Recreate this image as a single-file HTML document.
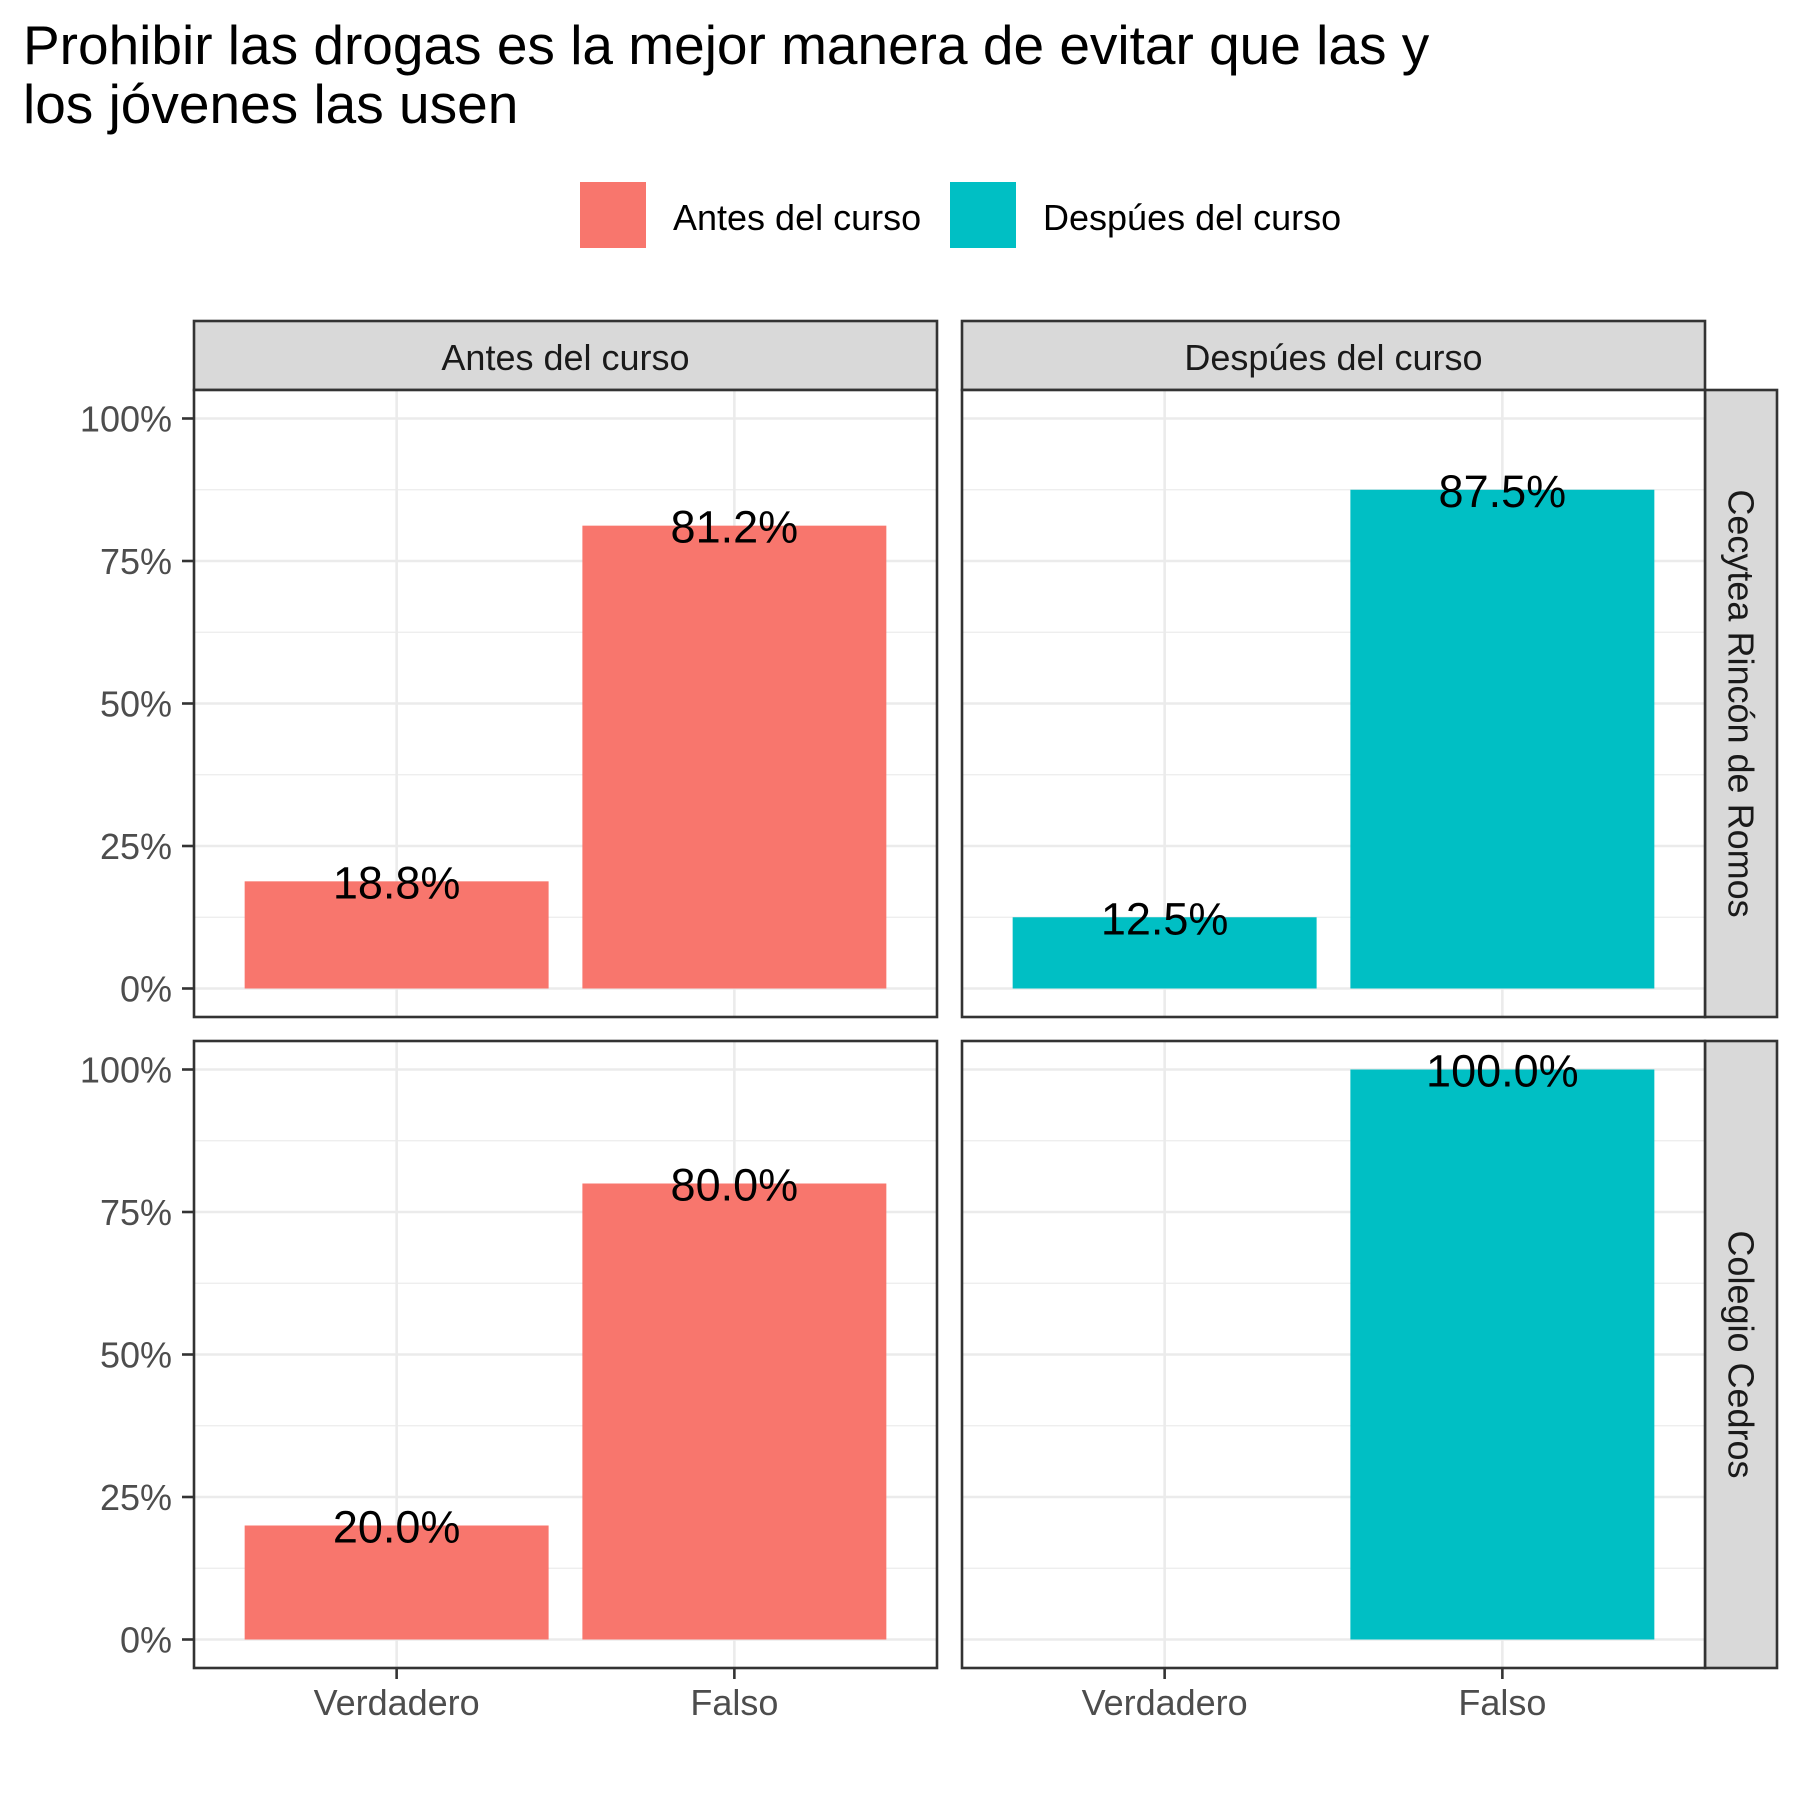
<!DOCTYPE html>
<html><head><meta charset="utf-8"><style>
html,body{margin:0;padding:0;background:#fff}
svg{display:block;font-family:"Liberation Sans",Arial,sans-serif}
</style></head><body>
<svg id="chart" width="1800" height="1800" viewBox="0 0 1800 1800" xmlns="http://www.w3.org/2000/svg">
<rect width="1800" height="1800" fill="#fff"/>
<text font-size="55" fill="#000"><tspan x="23" y="64">Prohibir las drogas es la mejor manera de evitar que las y</tspan><tspan x="23" y="123">los jóvenes las usen</tspan></text>
<g>
<rect x="580" y="182" width="66" height="66" fill="#F8766D"/>
<text x="673" y="230" font-size="36">Antes del curso</text>
<rect x="950" y="182" width="66" height="66" fill="#00BFC4"/>
<text x="1043" y="230" font-size="36">Despúes del curso</text>
</g>
<g id="panels"></g>
</svg>
<script>
const categories = ["Verdadero", "Falso"];
const colFacets = ["Antes del curso", "Despúes del curso"];
const rowFacets = ["Cecytea Rincón de Romos", "Colegio Cedros"];
const antesCecytea = [0.188, 0.812];
const despuesCecytea = [0.125, 0.875];
const antesCedros = [0.200, 0.800];
const despuesCedros = [0.0, 1.0];
const yTicks = [0, 0.25, 0.5, 0.75, 1];
const yTickLabels = ["0%", "25%", "50%", "75%", "100%"];
const barLabelsCecytea = [["18.8%", "81.2%"], ["12.5%", "87.5%"]];
const barLabelsCedros = [["20.0%", "80.0%"], ["", "100.0%"]];

const panelData = [[antesCecytea, despuesCecytea], [antesCedros, despuesCedros]];
const panelLabels = [barLabelsCecytea, barLabelsCedros];
const colors = ["#F8766D", "#00BFC4"];
const colX = [194, 962], panelW = 743;
const rowY = [390, 1041], panelH = 627;
const NS = "http://www.w3.org/2000/svg";
const root = document.getElementById("panels");
function mk(tag, attrs, parent) {
  const e = document.createElementNS(NS, tag);
  for (const k in attrs) e.setAttribute(k, attrs[k]);
  (parent || root).appendChild(e);
  return e;
}
function yScale(v, r) { return rowY[r] + panelH - panelH * (v + 0.05) / 1.1; }
function xScale(i, c) { return colX[c] + panelW * (i + 1 - 0.4) / 2.2; }
const bw = panelW * 0.9 / 2.2;

for (let c = 0; c < 2; c++) {
  const s = mk("rect", {x: colX[c], y: 321, width: panelW, height: 69, fill: "#D9D9D9", stroke: "#333", "stroke-width": 2.6});
  
  
  const t = mk("text", {x: colX[c] + panelW / 2, y: 370, "font-size": 36, "text-anchor": "middle", fill: "#1A1A1A"});
  
  
  t.textContent = colFacets[c];
}
for (let r = 0; r < 2; r++) {
  const s = mk("rect", {x: 1705, y: rowY[r], width: 72, height: panelH, fill: "#D9D9D9", stroke: "#333", "stroke-width": 2.6});
  
  
  const cy = rowY[r] + panelH / 2;
  const t = mk("text", {x: 1741, y: cy, "font-size": 36, "text-anchor": "middle", "dominant-baseline": "central", fill: "#1A1A1A", transform: `rotate(90 1741 ${cy})`});
  
  
  t.textContent = rowFacets[r];
}

for (let r = 0; r < 2; r++) {
  for (let c = 0; c < 2; c++) {
    const g = mk("g", {});
    
    
    mk("rect", {x: colX[c], y: rowY[r], width: panelW, height: panelH, fill: "#fff"}, g);
    for (let i = 0; i < yTicks.length - 1; i++) {
      const y = yScale((yTicks[i] + yTicks[i + 1]) / 2, r);
      const l = mk("line", {x1: colX[c], x2: colX[c] + panelW, y1: y, y2: y, stroke: "#EBEBEB", "stroke-width": 1.3}, g);
      
      
    }
    yTicks.forEach(v => {
      const y = yScale(v, r);
      const l = mk("line", {x1: colX[c], x2: colX[c] + panelW, y1: y, y2: y, stroke: "#EBEBEB", "stroke-width": 2.6}, g);
      
      
    });
    categories.forEach((cat, i) => {
      const x = xScale(i, c);
      const l = mk("line", {x1: x, x2: x, y1: rowY[r], y2: rowY[r] + panelH, stroke: "#EBEBEB", "stroke-width": 2.6}, g);
      
      
    });
    const vals = panelData[r][c];
    vals.forEach((v, i) => {
      const x = xScale(i, c), y0 = yScale(0, r), y1 = yScale(v, r);
      const b = mk("rect", {x: x - bw / 2, y: y1, width: bw, height: Math.max(0, y0 - y1), fill: colors[c]}, g);
      
      
      const lab = panelLabels[r][c][i];
      if (lab) {
        const t = mk("text", {x: x, y: y1 + 17, "font-size": 45, "text-anchor": "middle", fill: "#000"}, g);
        
        
        t.textContent = lab;
      }
    });
    mk("rect", {x: colX[c], y: rowY[r], width: panelW, height: panelH, fill: "none", stroke: "#333", "stroke-width": 2.6}, g);
    if (c === 0) {
      yTicks.forEach((v, i) => {
        const y = yScale(v, r);
        mk("line", {x1: 182, x2: 194, y1: y, y2: y, stroke: "#333", "stroke-width": 2.6}, g);
        const t = mk("text", {x: 172, y: y + 13, "font-size": 36, "text-anchor": "end", fill: "#4D4D4D"}, g);
        
        
        t.textContent = yTickLabels[i];
      });
    }
    if (r === 1) {
      categories.forEach((cat, i) => {
        const x = xScale(i, c);
        mk("line", {x1: x, x2: x, y1: 1667, y2: 1679, stroke: "#333", "stroke-width": 2.6}, g);
        const t = mk("text", {x: x, y: 1715, "font-size": 36, "text-anchor": "middle", fill: "#4D4D4D"}, g);
        
        
        t.textContent = cat;
      });
    }
  }
}
</script>
</body></html>
